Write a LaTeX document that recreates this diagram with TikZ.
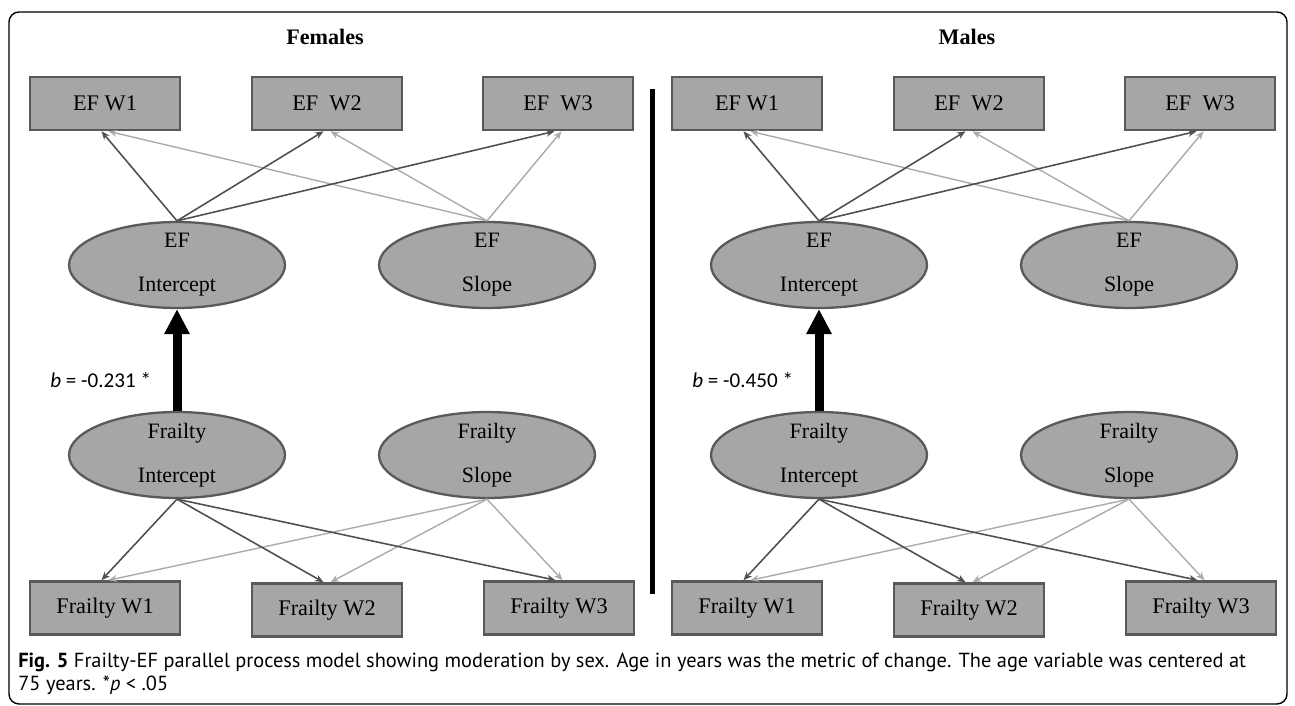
\documentclass[tikz,border=0pt]{standalone}
\usepackage{fontspec}
\setmainfont{Liberation Serif}
\newfontfamily\capfont{PT Sans}
\newfontfamily\coeffont{Carlito}
\usepackage{xcolor}
\usepackage{tikz}
\usetikzlibrary{shapes,arrows.meta,positioning}

\definecolor{boxgrey}{HTML}{A6A6A6}
\definecolor{edgegrey}{HTML}{595959}
\definecolor{darkpath}{HTML}{505050}
\definecolor{lightpath}{HTML}{ABABAB}

\begin{document}
\begin{tikzpicture}[
  x=0.02cm, y=-0.02cm,
  obs/.style={rectangle, draw=edgegrey, fill=boxgrey, line width=1.5pt, minimum width=3.0cm, minimum height=1.06cm, font=\fontsize{12.7}{15}\selectfont},
  latent/.style={ellipse, draw=edgegrey, fill=boxgrey, line width=1.3pt, minimum width=4.32cm, minimum height=1.72cm, inner xsep=0pt, inner ysep=-8pt, align=center, font=\fontsize{12.5}{25}\selectfont},
  sexlabel/.style={font=\bfseries\fontsize{12.6}{15}\selectfont},
  coef/.style={anchor=west, inner sep=0pt, font=\coeffont\fontsize{12}{14}\selectfont},
  darkarrow/.style={-{Stealth[length=0.17cm, width=0.14cm]}, draw=darkpath, line width=0.9pt},
  lightarrow/.style={-{Stealth[length=0.17cm, width=0.14cm]}, draw=lightpath, line width=0.8pt},
  patharrow/.style={-{Triangle[length=0.5cm, width=0.48cm]}, line width=0.18cm}
]
  \useasboundingbox (0,0) rectangle (1295,706);
  \draw[rounded corners=0.2cm, line width=0.8pt] (9,12) rectangle (1287,704);
  \draw[line width=0.1cm] (652,89) -- (652,594);

  \foreach \p/\dx/\sex/\b in {f/0/Females/-0.231, m/642/Males/-0.450} {
    \begin{scope}[shift={(\dx,0)}]
      \node[sexlabel] (\p-title) at (325,37) {\sex};
      \node[obs] (\p-ew1) at (105,103.5) {EF W1};
      \node[obs] (\p-ew2) at (327,103.5) {EF~~W2};
      \node[obs] (\p-ew3) at (558,103.5) {EF~~W3};
      \node[latent] (\p-ei) at (177,265) {EF\\Intercept};
      \node[latent] (\p-es) at (487,265) {EF\\Slope};
      \node[latent] (\p-fi) at (177,455) {Frailty\\Intercept};
      \node[latent] (\p-fs) at (487,455) {Frailty\\Slope};
      \node[obs] (\p-fw1) at (105,608) {Frailty W1};
      \node[obs] (\p-fw2) at (327,610) {Frailty W2};
      \node[obs] (\p-fw3) at (559,608) {Frailty W3};
      \node[coef] (\p-b) at (50,380) {\textit{b} = \b\ *};

      \foreach \w in {1,2,3} {
        \draw[lightarrow] (\p-es.north) -- ([xshift=2pt]\p-ew\w.south);
        \draw[darkarrow] (\p-ei.north) -- ([xshift=-2pt]\p-ew\w.south);
        \draw[lightarrow] (\p-fs.south) -- ([xshift=2pt]\p-fw\w.north);
        \draw[darkarrow] (\p-fi.south) -- ([xshift=-2pt]\p-fw\w.north);
      }
      \draw[patharrow] (\p-fi.north) -- (\p-ei.south);
    \end{scope}
  }

  % caption under both panels
  \node[anchor=west, align=left, inner sep=0pt, font=\capfont\fontsize{11.6}{13}\selectfont] (caption) at (18,673.5)
    {\textbf{Fig. 5} Frailty-EF parallel process model showing moderation by sex. Age in years was the metric of change. The age variable was centered at\\
     75 years. *\textit{p} < .05};
\end{tikzpicture}
\end{document}
